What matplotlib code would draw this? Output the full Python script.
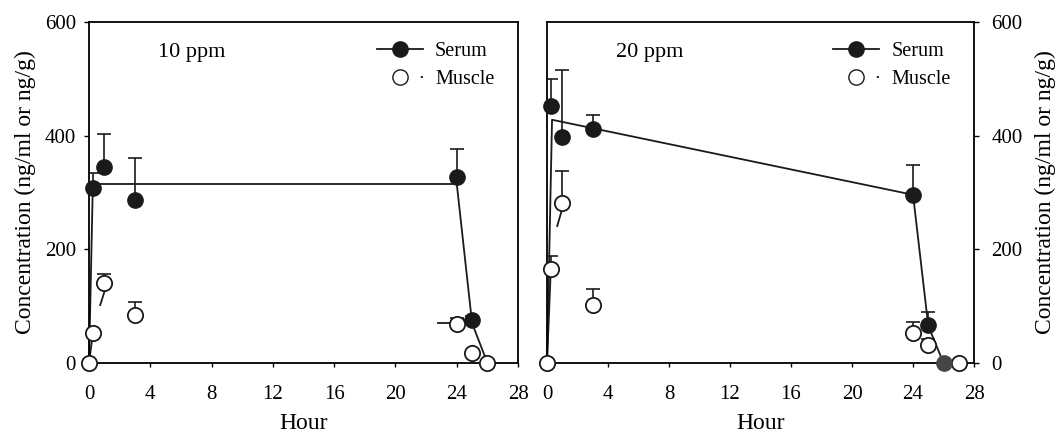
import numpy as np
import matplotlib
matplotlib.use("Agg")
from matplotlib import pyplot as plt
from matplotlib.lines import Line2D

plt.rcParams['font.family'] = ['Liberation Serif', 'DejaVu Serif']

# 10 ppm
hours_serum_10 = [0.25, 1, 3, 24, 25]
serum_10 = [308, 345, 287, 328, 75]
serum_err_10 = [27, 58, 73, 48, 7]
hours_muscle_10 = [0, 0.25, 1, 3, 24, 25, 26]
muscle_10 = [0, 52, 140, 85, 68, 18, 0]
muscle_err_10 = [0, 0, 17, 23, 12, 0, 0]
fit_x_serum_10 = [0, 0.25, 24, 25, 26]
fit_y_serum_10 = [0, 315, 315, 70, 0]
# only short pieces of the muscle fit are visible in the figure
fit_muscle_pieces_10 = [([0, 0.25], [0, 52]),
                        ([0.73, 1.0], [102, 125]),
                        ([22.8, 23.8], [70, 70])]

# 20 ppm
hours_serum_20 = [0.25, 1, 3, 24, 25, 26]
serum_20 = [453, 397, 412, 296, 67, 0]
serum_err_20 = [47, 119, 24, 53, 23, 0]
hours_muscle_20 = [0, 0.25, 1, 3, 24, 25, 27]
muscle_20 = [0, 166, 282, 102, 52, 31, 0]
muscle_err_20 = [0, 22, 56, 28, 20, 12, 0]
fit_x_serum_20 = [0, 0.33, 24, 25, 26]
fit_y_serum_20 = [0, 428, 296, 65, 0]
fit_muscle_pieces_20 = [([0, 0.25], [0, 166]),
                        ([0.67, 0.94], [241, 266])]

xticks = [0, 4, 8, 12, 16, 20, 24, 28]
yticks = [0, 200, 400, 600]

fig = plt.figure(figsize=(10.56, 4.36), dpi=100)
ax1 = fig.add_axes([0.0843, 0.1674, 0.4063, 0.7821])
ax2 = fig.add_axes([0.518, 0.1674, 0.4044, 0.7821])

INK = '#1a1a1a'


def draw(ax, hs, s, se, hm, m, me, fxs, fys, pieces, label, right=False):
    ax.plot(fxs, fys, color=INK, lw=1.3, zorder=2, clip_on=False)
    for px, py in pieces:
        ax.plot(px, py, color=INK, lw=1.3, zorder=2, clip_on=False)
    # one-sided (upper) error bars
    for x, y, e in list(zip(hs, s, se)) + list(zip(hm, m, me)):
        if e > 0:
            ax.errorbar(x, y, yerr=[[0], [e]], fmt='none', ecolor=INK,
                        elinewidth=1.2, capsize=5, capthick=1.2, zorder=2)
    colors = [INK] * len(hs)
    if right:
        colors[-1] = '#454545'
    for x, y, c in zip(hs, s, colors):
        ax.plot(x, y, 'o', ms=11, mfc=c, mec=c, zorder=4, clip_on=False)
    ax.plot(hm, m, 'o', ms=11, mfc='white', mec=INK, mew=1.3,
            ls='none', zorder=3, clip_on=False)

    ax.set_xlim(0, 28)
    ax.set_ylim(0, 600)
    ax.set_xticks(xticks)
    ax.set_yticks(yticks)
    ax.tick_params(labelsize=15, length=3.5, width=1, direction='out')
    ax.tick_params(axis='x', length=3, pad=12.5)
    for sp in ax.spines.values():
        sp.set_linewidth(1.3)
    ax.set_xlabel('Hour', fontsize=17, labelpad=7)
    if right:
        ax.yaxis.tick_right()
        ax.yaxis.set_label_position('right')
        ax.tick_params(axis='y', pad=9)
        ax.set_ylabel('Concentration (ng/ml or ng/g)', fontsize=17,
                      labelpad=9)
    else:
        ax.tick_params(axis='y', pad=6)
        ax.set_ylabel('Concentration (ng/ml or ng/g)', fontsize=17,
                      labelpad=6)
    ax.text(4.5, 547, label, fontsize=16, va='center')

    h1 = Line2D([], [], color=INK, lw=1.3, marker='o', ms=11,
                mfc=INK, mec=INK)
    h2 = Line2D([], [], color=INK, lw=1.3, marker='o', ms=11,
                mfc='white', mec=INK, ls=(77.3, (1.5, 100)))
    ax.legend([h1, h2], ['Serum', 'Muscle'], loc='upper right', frameon=False,
              fontsize=14.5, handlelength=2.3, handletextpad=0.6,
              bbox_to_anchor=(0.945, 0.941), borderaxespad=0, borderpad=0,
              labelspacing=0.45)


draw(ax1, hours_serum_10, serum_10, serum_err_10, hours_muscle_10, muscle_10,
     muscle_err_10, fit_x_serum_10, fit_y_serum_10, fit_muscle_pieces_10,
     '10 ppm')
draw(ax2, hours_serum_20, serum_20, serum_err_20, hours_muscle_20, muscle_20,
     muscle_err_20, fit_x_serum_20, fit_y_serum_20, fit_muscle_pieces_20,
     '20 ppm', right=True)

fig.savefig('out.png', dpi=100)
